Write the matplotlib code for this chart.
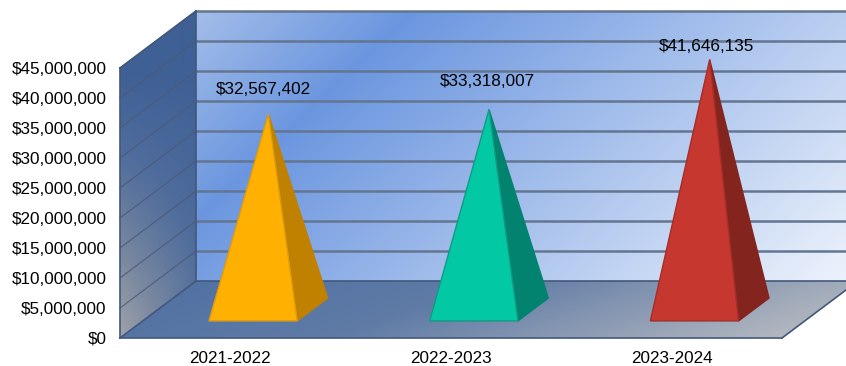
#!/usr/bin/env python3
"""plot.py -- 3D-look pyramid chart of yearly totals, drawn with plain polygons."""
import numpy as np
import matplotlib
matplotlib.use("Agg")
import matplotlib.pyplot as plt
from matplotlib.colors import LinearSegmentedColormap
from matplotlib.patches import Polygon

years = ["2021-2022", "2022-2023", "2023-2024"]
totals = [32567402, 33318007, 41646135]
tick_values = [0, 5000000, 10000000, 15000000, 20000000, 25000000,
               30000000, 35000000, 40000000, 45000000]

FRONT = ("#ffb000", "#03c8a4", "#c5372f")
SIDE = ("#c08000", "#02836f", "#84241e")
EDGE = ("#dc9c12", "#109c84", "#a52e28")
GRID = "#647590"

# plot box in pixels, the figure axes run in pixel units
X0, X1, Y0, H = 120.0, 782.0, 338.0, 270.0
DX, DY = 76.0, 57.0
VMAX = 45000000.0
D_NEAR, D_FAR = 0.30, 0.70     # pyramid base position along the depth
BASE_W = 0.40                  # base width as a share of a category
LABEL_SHIFT = [(-5, -25), (-2, -28), (-3, -13)]   # value label offset from the apex


def proj(cat, value=0.0, depth=0.0):
    """cat in category units, value in dollars, depth 0 (front) to 1 (back)."""
    x = X0 + (X1 - X0) * cat / len(years) + DX * depth
    y = Y0 - H * value / VMAX - DY * depth
    return x, y


def gradient(ax, verts, func, stops, zorder):
    cmap = LinearSegmentedColormap.from_list("g", stops)
    xs, ys = np.meshgrid(np.arange(0, 860), np.arange(0, 366))
    img = ax.imshow(func(xs, ys), cmap=cmap, vmin=0, vmax=1, extent=(0, 860, 366, 0),
                    origin="upper", zorder=zorder, interpolation="bilinear")
    img.set_clip_path(Polygon(verts, transform=ax.transData))


plt.rcParams["font.family"] = ["Liberation Sans", "DejaVu Sans"]
fig = plt.figure(figsize=(8.46, 3.66), dpi=100)
ax = fig.add_axes([0, 0, 1, 1])

# ---- walls and floor ----
n = len(years)
back = [proj(0, 0, 1), proj(n, 0, 1), proj(n, VMAX, 1), proj(0, VMAX, 1)]
side = [proj(0), proj(0, 0, 1), proj(0, VMAX, 1), proj(0, VMAX)]
floor = [proj(0), proj(n), proj(n, 0, 1), proj(0, 0, 1)]

gradient(ax, back,
         lambda x, y: np.clip((x - 196) / 650 * 0.7 + (y - 11) / 270 * 0.3, 0, 1),
         [(0, "#a3bde9"), (0.23, "#6b96df"), (1, "#edf3fc")], 1)
gradient(ax, side,
         lambda x, y: np.clip((y - 68) / 270 * (1 - (x - 120) / 76 * 0.55), 0, 1),
         [(0, "#3f6095"), (0.3, "#4f6c9c"), (0.7, "#7c8aa0"), (1, "#a0a3aa")], 1)
gradient(ax, floor,
         lambda x, y: np.clip((x - 120) / 662 * 0.8 + (y - 281) / 57 * 0.2, 0, 1),
         [(0, "#4f70a4"), (0.45, "#5f7ba6"), (1, "#b4b8bf")], 1)

# ---- gridlines on both walls ----
for v in tick_values[1:]:
    gx0, gy0 = proj(0, v)
    gx1, gy1 = proj(0, v, 1)
    gx2, gy2 = proj(n, v, 1)
    ax.plot([gx0, gx1], [gy0, gy1], color="#4a5a78", lw=0.9, alpha=0.8, zorder=2)
    ax.plot([gx1, gx2], [gy1, gy2], color=GRID, lw=1.8, zorder=2, solid_capstyle="butt")

# ---- outlines ----
for a, b in [(proj(0), proj(n)), (proj(0), proj(0, 0, 1)), (proj(0, 0, 1), proj(n, 0, 1)),
             (proj(n), proj(n, 0, 1)), (proj(0), proj(0, VMAX)),
             (proj(0, 0, 1), proj(0, VMAX, 1)), (proj(0, VMAX), proj(0, VMAX, 1))]:
    ax.plot([a[0], b[0]], [a[1], b[1]], color="#42587a", lw=1.2, zorder=3)

# ---- pyramids ----
for i, (year, total) in enumerate(zip(years, totals)):
    mid = i + 0.5
    left, right = mid - BASE_W / 2, mid + BASE_W / 2
    apex = proj(mid, total, (D_NEAR + D_FAR) / 2)
    ax.add_patch(Polygon([proj(right, 0, D_NEAR), proj(right, 0, D_FAR), apex],
                         fc=SIDE[i], ec=SIDE[i], lw=1, zorder=4))
    ax.add_patch(Polygon([proj(left, 0, D_NEAR), proj(right, 0, D_NEAR), apex],
                         fc=FRONT[i], ec=EDGE[i], lw=1, zorder=5))
    sx, sy = LABEL_SHIFT[i]
    ax.text(apex[0] + sx, apex[1] + sy, f"${total:,}", fontsize=12.3, color="black",
            ha="center", va="center", zorder=6)
    tx, _ = proj(mid)
    ax.text(tx, 358.5, year, fontsize=12.3, color="black", ha="center", va="center")

# ---- value axis labels ----
for v in tick_values:
    _, ty = proj(0, v)
    ax.text(106.5, ty + 1.2, f"${v:,}", fontsize=12.3, color="black", ha="right", va="center")

ax.set_xlim(0, 846)
ax.set_ylim(366, 0)
ax.axis("off")
fig.savefig("out.png", dpi=100)
